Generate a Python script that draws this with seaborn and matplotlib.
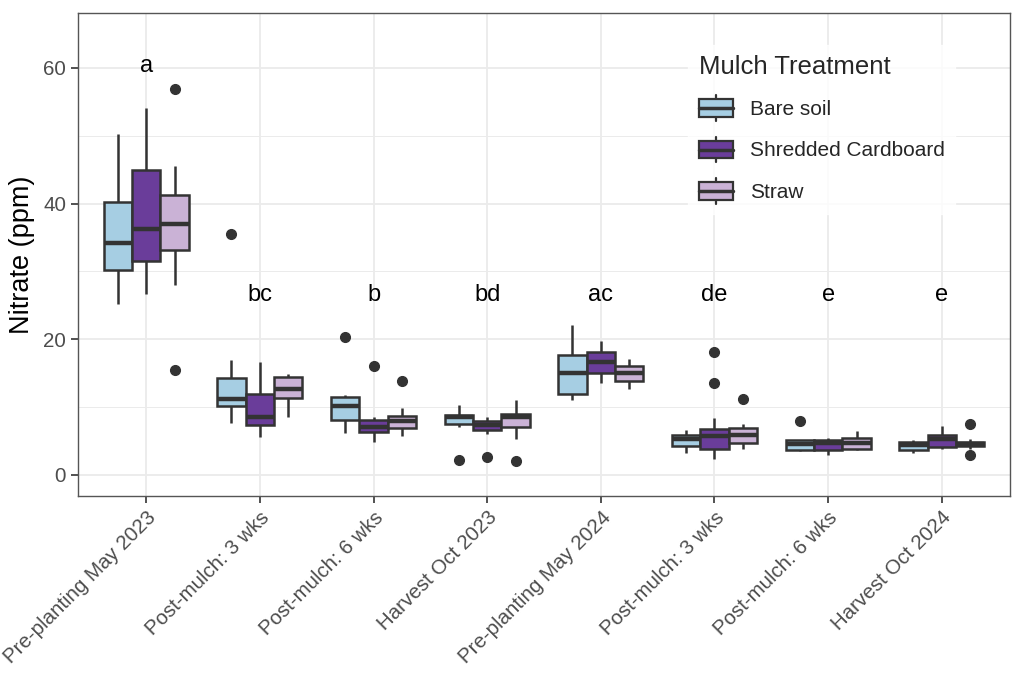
# Nitrate by sampling date and mulch treatment
import pandas as pd
import matplotlib.pyplot as plt
import seaborn as sns
import numpy as np
from matplotlib.patches import Patch, Rectangle
from matplotlib.lines import Line2D
from matplotlib.legend_handler import HandlerBase

dates = ["Pre-planting May 2023", "Post-mulch: 3 wks", "Post-mulch: 6 wks", "Harvest Oct 2023",
         "Pre-planting May 2024", "Post-mulch: 3 wks ", "Post-mulch: 6 wks ", "Harvest Oct 2024"]
treatments = ["Bare soil", "Shredded Cardboard", "Straw"]
colors = ["#a6cee3", "#6a3d9a", "#cab2d6"]

# per-date samples (ppm)
bare_soil = [
    [25.2, 28.4, 30.2, 32.1, 34.2, 37.5, 40.2, 44.8, 50.3],
    [7.7, 9.2, 10.1, 10.6, 11.2, 12.9, 14.3, 17.0, 35.5],
    [6.2, 7.4, 8.1, 9.3, 10.1, 10.9, 11.5, 11.8, 20.4],
    [2.2, 7.1, 7.5, 8.1, 8.6, 8.7, 8.8, 9.4, 10.3],
    [11.1, 11.5, 11.9, 13.6, 15.0, 16.2, 17.7, 19.8, 22.1],
    [3.3, 3.8, 4.2, 4.8, 5.3, 5.6, 5.9, 6.2, 6.6],
    [3.5, 3.6, 3.7, 4.0, 4.5, 4.8, 5.1, 5.2, 8.0],
    [3.3, 3.5, 3.7, 4.1, 4.4, 4.6, 4.8, 5.0, 5.2],
]
cardboard = [
    [26.7, 29.3, 31.5, 33.8, 36.2, 40.1, 44.9, 48.6, 54.1],
    [5.6, 6.5, 7.4, 8.0, 8.5, 10.2, 12.0, 14.1, 16.6],
    [4.9, 5.8, 6.4, 6.8, 7.1, 7.6, 8.1, 8.6, 16.0],
    [2.7, 6.0, 6.7, 7.0, 7.3, 7.6, 7.9, 8.2, 8.6],
    [13.5, 14.2, 15.0, 15.9, 16.6, 17.3, 18.1, 18.9, 19.8],
    [2.4, 3.1, 3.5, 3.9, 4.6, 5.2, 5.8, 6.2, 6.5, 6.8, 8.4, 13.5, 18.2],
    [2.9, 3.3, 3.7, 4.2, 4.7, 5.0, 5.2, 5.3, 5.4],
    [3.8, 4.0, 4.1, 4.7, 5.3, 5.6, 5.9, 6.5, 7.2],
]
straw = [
    [15.5, 28.0, 33.1, 35.2, 37.0, 39.3, 41.2, 45.6, 56.9],
    [8.5, 10.2, 11.3, 12.0, 12.6, 13.5, 14.5, 14.7, 14.9],
    [5.7, 6.3, 6.9, 7.5, 7.9, 8.3, 8.7, 9.9, 13.9],
    [2.1, 5.3, 7.0, 8.0, 8.6, 8.8, 9.0, 10.1, 11.0],
    [12.6, 13.2, 13.8, 14.5, 15.0, 15.6, 16.1, 16.6, 17.1],
    [3.8, 4.2, 4.7, 5.3, 5.9, 6.4, 6.9, 7.5, 11.2],
    [3.7, 3.7, 3.8, 4.3, 4.7, 5.1, 5.5, 6.0, 6.5],
    [3.0, 3.8, 4.2, 4.4, 4.5, 4.6, 4.8, 5.3, 7.5],
]

letters = ["a", "bc", "b", "bd", "ac", "de", "e", "e"]
letter_y = [59.4, 25.7, 25.7, 25.7, 25.7, 25.7, 25.7, 25.7]

rows = []
for trt, series in zip(treatments, [bare_soil, cardboard, straw]):
    for d, vals in zip(dates, series):
        for v in vals:
            rows.append({"Date": d, "Treatment": trt, "Nitrate": v})
df = pd.DataFrame(rows)

line_c = "#333333"


class BoxGlyph(HandlerBase):
    # ggplot-like boxplot key
    def create_artists(self, legend, orig_handle, xdescent, ydescent, width, height, fontsize, trans):
        x0, y0 = -xdescent, -ydescent
        b0, b1 = y0 + height * 0.15, y0 + height * 0.85
        xm = x0 + width / 2
        w_lo = Line2D([xm, xm], [y0, b0], color=line_c, lw=1.6, transform=trans)
        w_hi = Line2D([xm, xm], [b1, y0 + height], color=line_c, lw=1.6, transform=trans)
        rect = Rectangle((x0, b0), width, b1 - b0, facecolor=orig_handle.get_facecolor(),
                         edgecolor=line_c, lw=1.6, transform=trans)
        med = Line2D([x0, x0 + width], [y0 + height / 2] * 2, color=line_c, lw=2.5, transform=trans)
        return [w_lo, w_hi, rect, med]


sns.set_theme(style="white")
plt.rcParams['font.family'] = ['Liberation Sans', 'DejaVu Sans']

fig, ax = plt.subplots(figsize=(10.24, 6.83), dpi=100)
fig.subplots_adjust(left=78/1024, right=1010/1024, top=1-13/683, bottom=1-496/683)

sns.boxplot(data=df, x="Date", y="Nitrate", hue="Treatment", order=dates, hue_order=treatments,
            palette=colors, saturation=1, width=0.75, gap=0, linewidth=1.8, linecolor=line_c,
            showcaps=False, whis=1.5, fliersize=7,
            flierprops=dict(marker="o", markerfacecolor=line_c, markeredgecolor=line_c),
            medianprops=dict(linewidth=3.2, color=line_c), ax=ax, zorder=3, legend=False)

# grid like theme_bw
ax.set_ylim(-3.1, 68.1)
ax.set_xlim(-0.6, 7.6)
ax.set_yticks([0, 20, 40, 60])
ax.set_yticks([10, 30, 50], minor=True)
ax.grid(which="major", color="#EBEBEB", linewidth=1.3, zorder=0)
ax.grid(which="minor", axis="y", color="#EBEBEB", linewidth=0.7, zorder=0)
ax.set_axisbelow(True)
for s in ax.spines.values():
    s.set_color("#555555")
    s.set_linewidth(1.0)

ax.tick_params(axis="both", which="major", length=5, width=1.2, color=line_c,
               labelsize=14.8, labelcolor="#4D4D4D", left=True, bottom=True)
ax.tick_params(axis="y", which="minor", length=0)
ax.set_xticks(range(len(dates)))
ax.set_xticklabels([d.strip() for d in dates], rotation=45, ha="right", va="top",
                   rotation_mode="anchor")

ax.set_xlabel("")
ax.set_ylabel("Nitrate (ppm)", fontsize=19.5, color="black", labelpad=6)

for i, (lab, y) in enumerate(zip(letters, letter_y)):
    ax.text(i, y, lab, ha="center", va="baseline", fontsize=17, color="black", zorder=4)

handles = [Patch(facecolor=c) for c in colors]
leg = ax.legend(handles, treatments, title="Mulch Treatment", loc="upper left",
                bbox_to_anchor=(0.655, 0.934), borderaxespad=0, frameon=True, fancybox=False,
                fontsize=15, title_fontsize=18.5, handlelength=1.65, handleheight=1.5,
                handletextpad=0.8, labelspacing=0.77, borderpad=0.5, alignment="left",
                handler_map={Patch: BoxGlyph()})
leg.get_frame().set_facecolor("white")
leg.get_frame().set_edgecolor("white")

plt.savefig("out.png", dpi=100)
